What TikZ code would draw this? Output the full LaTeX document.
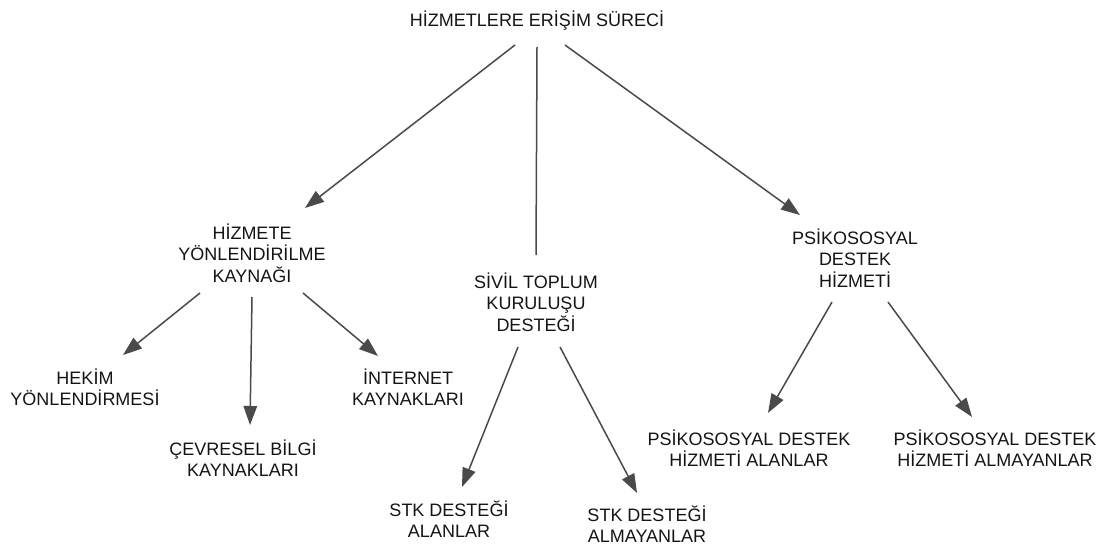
\documentclass[tikz,border=0pt]{standalone}
\usepackage{fontspec}
\setmainfont{Liberation Sans}
\usetikzlibrary{arrows.meta,calc}
\definecolor{linegray}{HTML}{4A4A4A}
\definecolor{inkblack}{HTML}{141414}
\tikzset{
  label/.style={align=center, inner sep=0pt, text=inkblack,
    font=\fontsize{18pt}{21.4pt}\selectfont},
  link/.style={draw=linegray, line width=1.5pt},
  arrowlink/.style={link, -{Triangle[length=19pt,width=13.5pt]}, fill=linegray},
}
\begin{document}
\begin{tikzpicture}[x=1pt, y=-1pt]
  \useasboundingbox (0,0) rectangle (1105,545);
  % root
  \node[label] (root) at (537,21) {HİZMETLERE ERİŞİM SÜRECİ};
  % second level
  \node[label] (refer) at (252,253) {HİZMETE\\YÖNLENDİRİLME\\KAYNAĞI};
  \node[label] (ngo)   at (536,302) {SİVİL TOPLUM\\KURULUŞU\\DESTEĞİ};
  \node[label] (psy)   at (855,258) {PSİKOSOSYAL\\DESTEK\\HİZMETİ};
  % third level
  \node[label] (doctor)  at (85,387)  {HEKİM\\YÖNLENDİRMESİ};
  \node[label] (circle)  at (243,458) {ÇEVRESEL BİLGİ\\KAYNAKLARI};
  \node[label] (web)     at (408,387) {İNTERNET\\KAYNAKLARI};
  \node[label] (ngoyes)  at (449,519) {STK DESTEĞİ\\ALANLAR};
  \node[label] (ngono)   at (647,524) {STK DESTEĞİ\\ALMAYANLAR};
  \node[label] (psyyes)  at (749,448) {PSİKOSOSYAL DESTEK\\HİZMETİ ALANLAR};
  \node[label] (psyno)   at (995,448) {PSİKOSOSYAL DESTEK\\HİZMETİ ALMAYANLAR};
  % connectors
  \draw[arrowlink] ($(root)+(-22,24)$) -- ($(refer)+(53,-45)$);
  \draw[link]      ($(root)+(0,26)$)   -- ($(ngo)+(0,-47)$);
  \draw[arrowlink] ($(root)+(28,24)$)  -- ($(psy)+(-55,-43)$);
  \draw[arrowlink] ($(refer)+(-52,40)$) -- ($(doctor)+(38,-32)$);
  \draw[arrowlink] ($(refer)+(0,44)$)   -- ($(circle)+(7,-33)$);
  \draw[arrowlink] ($(refer)+(51,40)$)  -- ($(web)+(-30,-31)$);
  \draw[arrowlink] ($(ngo)+(-18,45)$)   -- ($(ngoyes)+(13,-32)$);
  \draw[arrowlink] ($(ngo)+(24,45)$)    -- ($(ngono)+(-10,-31)$);
  \draw[arrowlink] ($(psy)+(-23,44)$)   -- ($(psyyes)+(19,-35)$);
  \draw[arrowlink] ($(psy)+(33,44)$)    -- ($(psyno)+(-23,-31)$);
\end{tikzpicture}
\end{document}
